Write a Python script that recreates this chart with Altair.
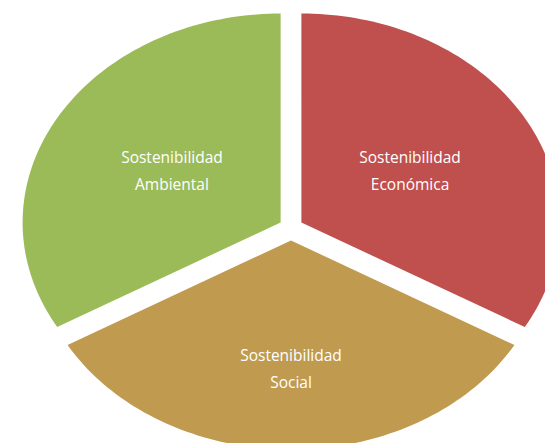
import math
import altair as alt
import pandas as pd

# ---- data ----
categories = ["Sostenibilidad Económica", "Sostenibilidad Social", "Sostenibilidad Ambiental"]
label_lines = [["Sostenibilidad", "Económica"], ["Sostenibilidad", "Social"], ["Sostenibilidad", "Ambiental"]]
values = [1, 1, 1]
colors = ["#C0504D", "#C09A4F", "#9BBB59"]

# ---- geometry / style ----
W, H = 545, 443
CX, CY = 291.0, 228.5     # centre of the (elliptical) pie in px
RX, RY = 258.0, 209.0     # horizontal / vertical radius in px
EXPLODE = 12.0            # px offset of each slice
LABEL_FRAC = {0: 0.49, 1: 0.615, 2: 0.49}
STEPS = 90

total = sum(values)
rows, labels = [], []
start = 0.0
for i, (cat, v) in enumerate(zip(categories, values)):
    sweep = 360.0 * v / total
    end = start + sweep
    mid = math.radians(start + sweep / 2)
    ox, oy = EXPLODE * math.sin(mid), -EXPLODE * math.cos(mid)
    pts = [(0.0, 0.0)]
    for k in range(STEPS + 1):
        a = math.radians(start + sweep * k / STEPS)
        pts.append((RX * math.sin(a), -RY * math.cos(a)))
    pts.append((0.0, 0.0))
    for j, (px, py) in enumerate(pts):
        rows.append({"slice": cat, "order": j, "x": CX + px + ox, "y": CY + py + oy})
    f = LABEL_FRAC[i]
    labels.append({
        "slice": cat,
        "text": label_lines[i],
        "x": CX + ox + f * 256.0 * math.sin(mid),
        "y": CY + oy - f * RY * math.cos(mid),
    })
    start = end

poly = pd.DataFrame(rows)
lab = pd.DataFrame(labels)

xs = alt.Scale(domain=[0, W], nice=False, zero=False)
ys = alt.Scale(domain=[0, H], nice=False, zero=False, reverse=True)

wedges = alt.Chart(poly).mark_line(strokeWidth=0, interpolate="linear").encode(
    x=alt.X("x:Q", scale=xs, axis=None),
    y=alt.Y("y:Q", scale=ys, axis=None),
    fill=alt.Fill("slice:N", scale=alt.Scale(domain=categories, range=colors), legend=None),
    detail="slice:N",
    order="order:Q",
)

text = alt.Chart(lab).mark_text(
    color="white", font="Open Sans", fontSize=15.5, lineHeight=27,
    align="center", baseline="middle", dy=-13,
).encode(
    x=alt.X("x:Q", scale=xs, axis=None),
    y=alt.Y("y:Q", scale=ys, axis=None),
    text="text",
)

chart = (wedges + text).properties(
    width=W, height=H, autosize=alt.AutoSizeParams(type="none"), padding=0,
    background="white",
).configure_view(stroke=None)

chart.save("out.html", embed_options={"renderer": "svg", "actions": False})
